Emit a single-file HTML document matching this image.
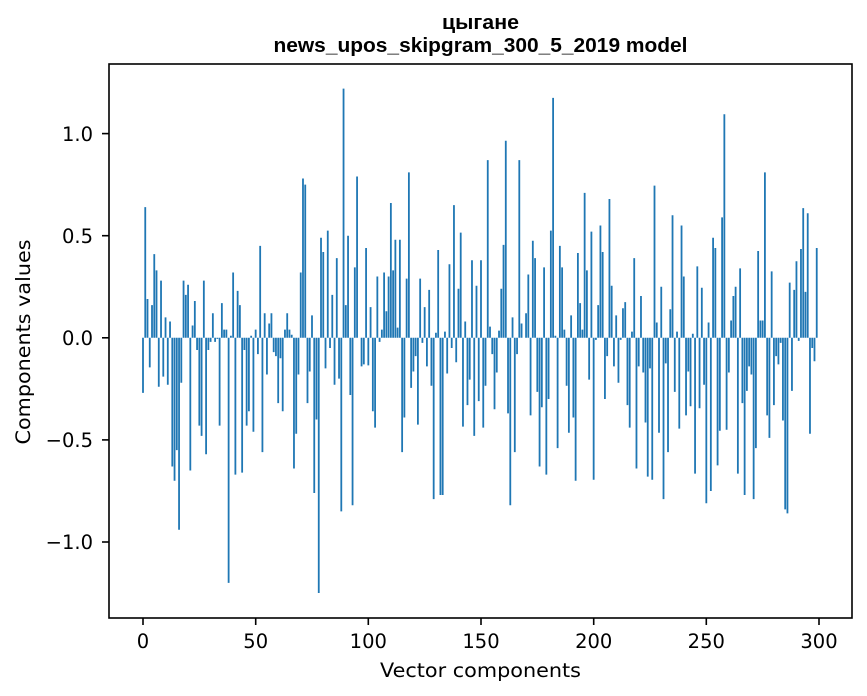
<!DOCTYPE html>
<html>
<head>
<meta charset="utf-8">
<style>
html,body{margin:0;padding:0;background:#fff;}
svg{display:block;}
text{font-family:"DejaVu Sans","Liberation Sans",sans-serif;fill:#000;}
</style>
</head>
<body>
<svg width="867" height="696" viewBox="0 0 867 696" xmlns="http://www.w3.org/2000/svg">
<rect x="0" y="0" width="867" height="696" fill="#fff"/>
<!-- bars -->
<g transform="translate(143,337.8) scale(2.2533,-204.2)">
<path fill="#1f77b4" d="M-1.4 0
m1 0h.8V-.27h-.8z m1 0h.8V.64h-.8z m1 0h.8V.19h-.8z m1 0h.8V-.145h-.8z m1 0h.8V.16h-.8z m1 0h.8V.41h-.8z m1 0h.8V.33h-.8z m1 0h.8V-.24h-.8z m1 0h.8V.28h-.8z m1 0h.8V-.19h-.8z
m1 0h.8V.1h-.8z m1 0h.8V-.23h-.8z m1 0h.8V.08h-.8z m1 0h.8V-.63h-.8z m1 0h.8V-.7h-.8z m1 0h.8V-.55h-.8z m1 0h.8V-.94h-.8z m1 0h.8V-.22h-.8z m1 0h.8V.28h-.8z m1 0h.8V.21h-.8z
m1 0h.8V.26h-.8z m1 0h.8V-.65h-.8z m1 0h.8V.06h-.8z m1 0h.8V.18h-.8z m1 0h.8V-.06h-.8z m1 0h.8V-.43h-.8z m1 0h.8V-.48h-.8z m1 0h.8V.28h-.8z m1 0h.8V-.57h-.8z m1 0h.8V-.06h-.8z
m1 0h.8V-.02h-.8z m1 0h.8V.12h-.8z m1 0h.8V-.02h-.8z m1 0h.8V-.005h-.8z m1 0h.8V-.43h-.8z m1 0h.8V.17h-.8z m1 0h.8V.04h-.8z m1 0h.8V.04h-.8z m1 0h.8V-1.2h-.8z m1 0h.8V.01h-.8z
m1 0h.8V.32h-.8z m1 0h.8V-.67h-.8z m1 0h.8V.23h-.8z m1 0h.8V.16h-.8z m1 0h.8V-.66h-.8z m1 0h.8V-.06h-.8z m1 0h.8V-.43h-.8z m1 0h.8V-.36h-.8z m1 0h.8V.01h-.8z m1 0h.8V-.46h-.8z
m1 0h.8V.04h-.8z m1 0h.8V-.08h-.8z m1 0h.8V.45h-.8z m1 0h.8V-.56h-.8z m1 0h.8V.12h-.8z m1 0h.8V-.18h-.8z m1 0h.8V.07h-.8z m1 0h.8V.12h-.8z m1 0h.8V-.07h-.8z m1 0h.8V-.09h-.8z
m1 0h.8V-.32h-.8z m1 0h.8V-.1h-.8z m1 0h.8V-.36h-.8z m1 0h.8V.04h-.8z m1 0h.8V.12h-.8z m1 0h.8V.04h-.8z m1 0h.8V.015h-.8z m1 0h.8V-.64h-.8z m1 0h.8V-.47h-.8z m1 0h.8V-.18h-.8z
m1 0h.8V.32h-.8z m1 0h.8V.78h-.8z m1 0h.8V.75h-.8z m1 0h.8V-.32h-.8z m1 0h.8V-.165h-.8z m1 0h.8V.11h-.8z m1 0h.8V-.76h-.8z m1 0h.8V-.4h-.8z m1 0h.8V-1.25h-.8z m1 0h.8V.49h-.8z
m1 0h.8V.42h-.8z m1 0h.8V-.15h-.8z m1 0h.8V.525h-.8z m1 0h.8V-.05h-.8z m1 0h.8V.21h-.8z m1 0h.8V-.23h-.8z m1 0h.8V.39h-.8z m1 0h.8V-.2h-.8z m1 0h.8V-.85h-.8z m1 0h.8V1.22h-.8z
m1 0h.8V.16h-.8z m1 0h.8V.5h-.8z m1 0h.8V-.28h-.8z m1 0h.8V-.82h-.8z m1 0h.8V.345h-.8z m1 0h.8V.79h-.8z m1 0h.8V0h-.8z m1 0h.8V-.14h-.8z m1 0h.8V-.13h-.8z m1 0h.8V.44h-.8z
m1 0h.8V-.135h-.8z m1 0h.8V.15h-.8z m1 0h.8V-.36h-.8z m1 0h.8V-.44h-.8z m1 0h.8V.3h-.8z m1 0h.8V-.02h-.8z m1 0h.8V.04h-.8z m1 0h.8V.32h-.8z m1 0h.8V.13h-.8z m1 0h.8V.3h-.8z
m1 0h.8V.66h-.8z m1 0h.8V.33h-.8z m1 0h.8V.48h-.8z m1 0h.8V.05h-.8z m1 0h.8V.48h-.8z m1 0h.8V-.56h-.8z m1 0h.8V-.39h-.8z m1 0h.8V.29h-.8z m1 0h.8V.81h-.8z m1 0h.8V-.245h-.8z
m1 0h.8V-.165h-.8z m1 0h.8V-.09h-.8z m1 0h.8V-.425h-.8z m1 0h.8V.29h-.8z m1 0h.8V-.025h-.8z m1 0h.8V.15h-.8z m1 0h.8V-.14h-.8z m1 0h.8V.235h-.8z m1 0h.8V-.235h-.8z m1 0h.8V-.79h-.8z
m1 0h.8V.025h-.8z m1 0h.8V.43h-.8z m1 0h.8V-.77h-.8z m1 0h.8V-.77h-.8z m1 0h.8V.03h-.8z m1 0h.8V-.175h-.8z m1 0h.8V.36h-.8z m1 0h.8V-.05h-.8z m1 0h.8V.65h-.8z m1 0h.8V-.12h-.8z
m1 0h.8V.24h-.8z m1 0h.8V.515h-.8z m1 0h.8V-.435h-.8z m1 0h.8V.08h-.8z m1 0h.8V-.33h-.8z m1 0h.8V-.205h-.8z m1 0h.8V.38h-.8z m1 0h.8V-.48h-.8z m1 0h.8V.255h-.8z m1 0h.8V-.31h-.8z
m1 0h.8V.38h-.8z m1 0h.8V-.44h-.8z m1 0h.8V-.235h-.8z m1 0h.8V.87h-.8z m1 0h.8V.055h-.8z m1 0h.8V-.08h-.8z m1 0h.8V-.35h-.8z m1 0h.8V-.17h-.8z m1 0h.8V.035h-.8z m1 0h.8V.24h-.8z
m1 0h.8V.455h-.8z m1 0h.8V.965h-.8z m1 0h.8V-.37h-.8z m1 0h.8V-.82h-.8z m1 0h.8V.1h-.8z m1 0h.8V-.56h-.8z m1 0h.8V-.08h-.8z m1 0h.8V.87h-.8z m1 0h.8V.07h-.8z m1 0h.8V0h-.8z
m1 0h.8V.12h-.8z m1 0h.8V.31h-.8z m1 0h.8V-.38h-.8z m1 0h.8V.475h-.8z m1 0h.8V.39h-.8z m1 0h.8V-.265h-.8z m1 0h.8V-.63h-.8z m1 0h.8V-.34h-.8z m1 0h.8V.345h-.8z m1 0h.8V-.67h-.8z
m1 0h.8V-.3h-.8z m1 0h.8V.525h-.8z m1 0h.8V1.175h-.8z m1 0h.8V.01h-.8z m1 0h.8V-.54h-.8z m1 0h.8V.45h-.8z m1 0h.8V.345h-.8z m1 0h.8V.04h-.8z m1 0h.8V-.235h-.8z m1 0h.8V-.465h-.8z
m1 0h.8V.11h-.8z m1 0h.8V-.39h-.8z m1 0h.8V-.7h-.8z m1 0h.8V.415h-.8z m1 0h.8V.17h-.8z m1 0h.8V.04h-.8z m1 0h.8V.71h-.8z m1 0h.8V.33h-.8z m1 0h.8V-.205h-.8z m1 0h.8V.52h-.8z
m1 0h.8V-.695h-.8z m1 0h.8V-.01h-.8z m1 0h.8V.16h-.8z m1 0h.8V.55h-.8z m1 0h.8V.42h-.8z m1 0h.8V-.3h-.8z m1 0h.8V-.09h-.8z m1 0h.8V.68h-.8z m1 0h.8V.255h-.8z m1 0h.8V-.14h-.8z
m1 0h.8V.11h-.8z m1 0h.8V-.22h-.8z m1 0h.8V-.01h-.8z m1 0h.8V.145h-.8z m1 0h.8V.175h-.8z m1 0h.8V-.33h-.8z m1 0h.8V-.44h-.8z m1 0h.8V.03h-.8z m1 0h.8V.39h-.8z m1 0h.8V-.64h-.8z
m1 0h.8V-.14h-.8z m1 0h.8V.205h-.8z m1 0h.8V-.17h-.8z m1 0h.8V-.415h-.8z m1 0h.8V-.68h-.8z m1 0h.8V-.15h-.8z m1 0h.8V-.695h-.8z m1 0h.8V.745h-.8z m1 0h.8V.075h-.8z m1 0h.8V-.465h-.8z
m1 0h.8V.25h-.8z m1 0h.8V-.79h-.8z m1 0h.8V-.125h-.8z m1 0h.8V-.56h-.8z m1 0h.8V.14h-.8z m1 0h.8V.6h-.8z m1 0h.8V-.265h-.8z m1 0h.8V.03h-.8z m1 0h.8V-.445h-.8z m1 0h.8V.55h-.8z
m1 0h.8V.3h-.8z m1 0h.8V-.38h-.8z m1 0h.8V-.165h-.8z m1 0h.8V-.335h-.8z m1 0h.8V.02h-.8z m1 0h.8V-.665h-.8z m1 0h.8V.35h-.8z m1 0h.8V-.345h-.8z m1 0h.8V.245h-.8z m1 0h.8V-.23h-.8z
m1 0h.8V-.81h-.8z m1 0h.8V.075h-.8z m1 0h.8V-.75h-.8z m1 0h.8V.49h-.8z m1 0h.8V.44h-.8z m1 0h.8V-.625h-.8z m1 0h.8V-.455h-.8z m1 0h.8V.59h-.8z m1 0h.8V1.095h-.8z m1 0h.8V-.45h-.8z
m1 0h.8V-.17h-.8z m1 0h.8V.085h-.8z m1 0h.8V.205h-.8z m1 0h.8V.25h-.8z m1 0h.8V-.665h-.8z m1 0h.8V.34h-.8z m1 0h.8V-.32h-.8z m1 0h.8V-.77h-.8z m1 0h.8V-.26h-.8z m1 0h.8V-.14h-.8z
m1 0h.8V-.18h-.8z m1 0h.8V-.79h-.8z m1 0h.8V-.54h-.8z m1 0h.8V.425h-.8z m1 0h.8V.085h-.8z m1 0h.8V.085h-.8z m1 0h.8V.81h-.8z m1 0h.8V-.38h-.8z m1 0h.8V-.49h-.8z m1 0h.8V.325h-.8z
m1 0h.8V-.33h-.8z m1 0h.8V-.09h-.8z m1 0h.8V-.13h-.8z m1 0h.8V-.025h-.8z m1 0h.8V-.405h-.8z m1 0h.8V-.84h-.8z m1 0h.8V-.86h-.8z m1 0h.8V.27h-.8z m1 0h.8V-.26h-.8z m1 0h.8V.235h-.8z
m1 0h.8V.375h-.8z m1 0h.8V-.015h-.8z m1 0h.8V.435h-.8z m1 0h.8V.635h-.8z m1 0h.8V.225h-.8z m1 0h.8V.61h-.8z m1 0h.8V-.47h-.8z m1 0h.8V-.05h-.8z m1 0h.8V-.115h-.8z m1 0h.8V.44h-.8z"/>
</g>
<!-- frame -->
<rect x="109" y="64" width="743" height="554" fill="none" stroke="#000" stroke-width="1.6"/>
<!-- ticks -->
<g stroke="#000" stroke-width="1.6">
<line x1="102" y1="133.6" x2="109" y2="133.6"/>
<line x1="102" y1="235.7" x2="109" y2="235.7"/>
<line x1="102" y1="337.8" x2="109" y2="337.8"/>
<line x1="102" y1="439.9" x2="109" y2="439.9"/>
<line x1="102" y1="542" x2="109" y2="542"/>
<line x1="143" y1="618" x2="143" y2="625"/>
<line x1="255.7" y1="618" x2="255.7" y2="625"/>
<line x1="368.3" y1="618" x2="368.3" y2="625"/>
<line x1="481" y1="618" x2="481" y2="625"/>
<line x1="593.7" y1="618" x2="593.7" y2="625"/>
<line x1="706.3" y1="618" x2="706.3" y2="625"/>
<line x1="819" y1="618" x2="819" y2="625"/>
</g>
<g font-size="19.5" text-anchor="end">
<text x="93" y="141">1.0</text>
<text x="93" y="243">0.5</text>
<text x="93" y="345">0.0</text>
<text x="93" y="447">−0.5</text>
<text x="93" y="549">−1.0</text>
</g>
<g font-size="19.5" text-anchor="middle">
<text x="143" y="648">0</text>
<text x="255.7" y="648">50</text>
<text x="368.3" y="648">100</text>
<text x="481" y="648">150</text>
<text x="593.7" y="648">200</text>
<text x="706.3" y="648">250</text>
<text x="819" y="648">300</text>
</g>
<text x="480.5" y="677" font-size="19.5" text-anchor="middle" textLength="201" lengthAdjust="spacingAndGlyphs">Vector components</text>
<text transform="translate(30,342) rotate(-90)" font-size="19.5" text-anchor="middle" textLength="205" lengthAdjust="spacingAndGlyphs">Components values</text>
<text x="480.5" y="29" font-size="20.5" font-weight="bold" text-anchor="middle" textLength="77" lengthAdjust="spacingAndGlyphs" style="font-family:'Liberation Sans','DejaVu Sans',sans-serif">цыгане</text>
<text x="480.5" y="52" font-size="20.5" font-weight="bold" text-anchor="middle" textLength="414" lengthAdjust="spacingAndGlyphs" style="font-family:'Liberation Sans','DejaVu Sans',sans-serif">news_upos_skipgram_300_5_2019 model</text>
</svg>
</body>
</html>
